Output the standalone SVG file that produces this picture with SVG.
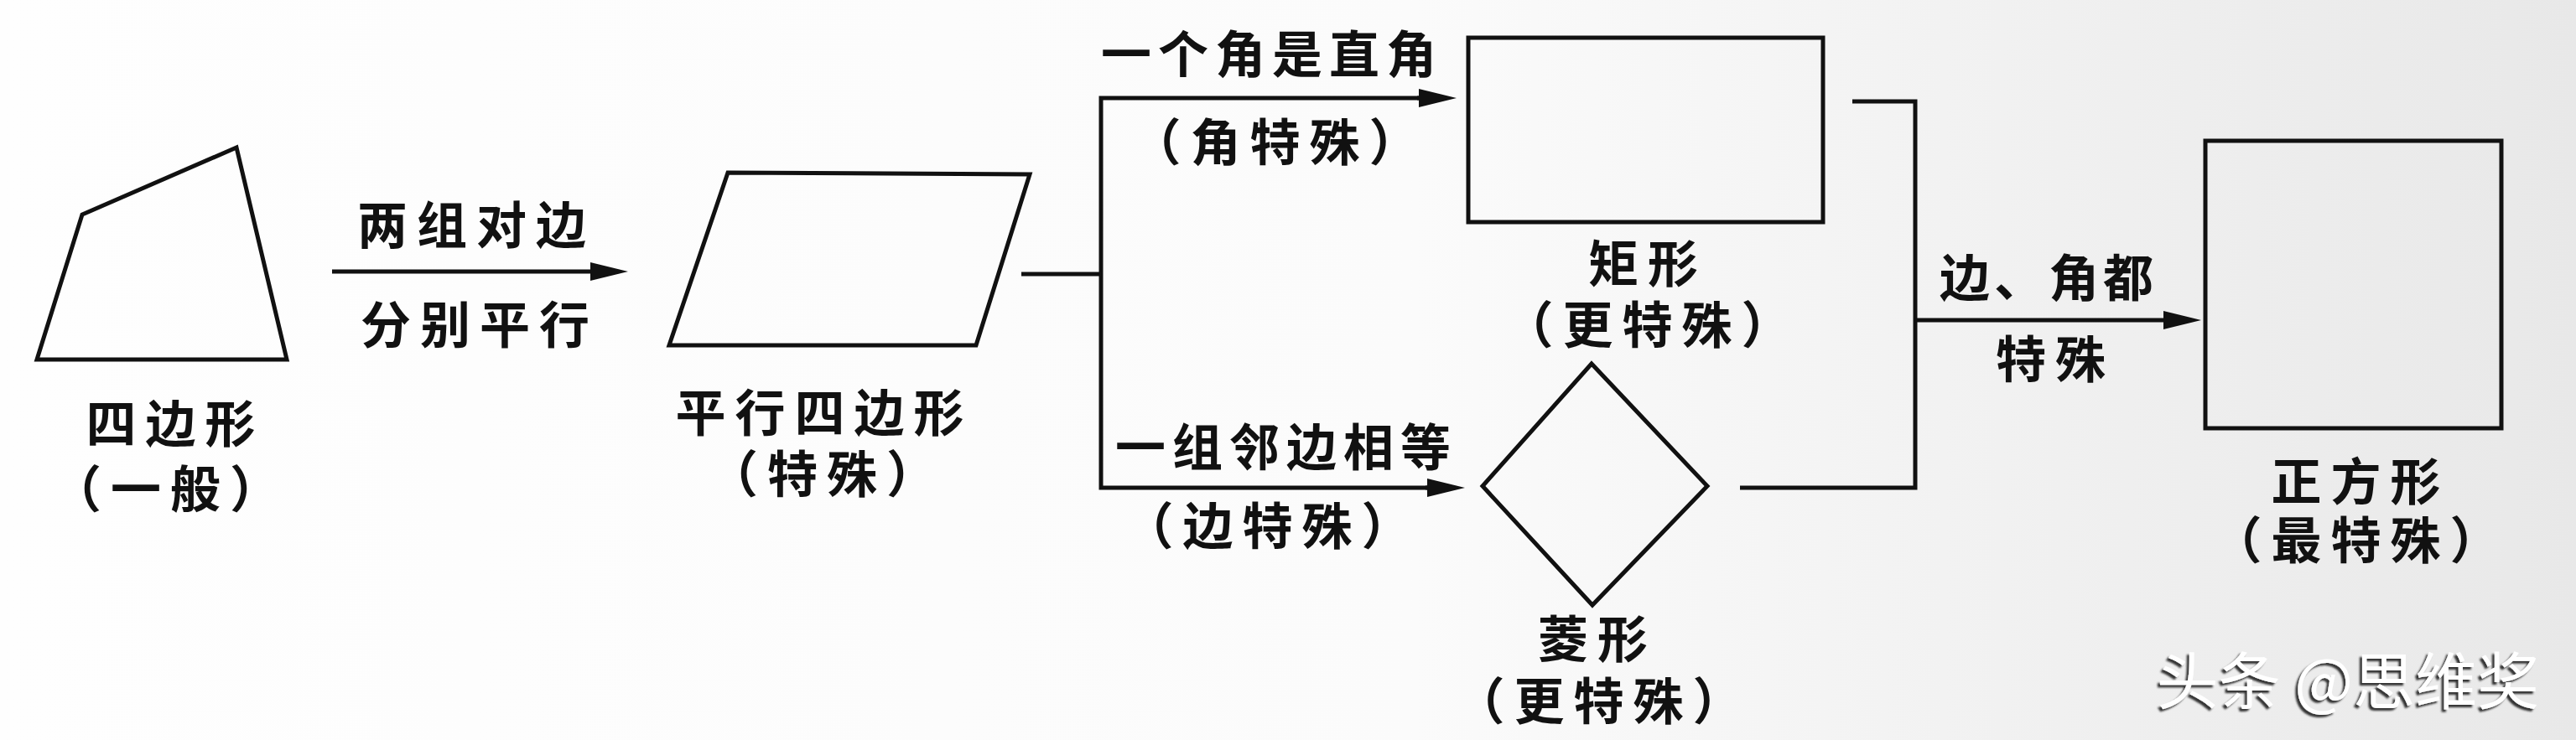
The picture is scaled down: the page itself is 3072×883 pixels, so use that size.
<svg xmlns="http://www.w3.org/2000/svg" width="3072" height="883" viewBox="0 0 3072 883">
<defs>
<linearGradient id="bg" x1="0" y1="0" x2="1" y2="0">
<stop offset="0" stop-color="#fefefe"/>
<stop offset="0.55" stop-color="#fbfbfb"/>
<stop offset="0.8" stop-color="#f0f0f0"/>
<stop offset="1" stop-color="#e8e8e8"/>
</linearGradient>
<marker id="ah" markerUnits="userSpaceOnUse" markerWidth="46" markerHeight="24" viewBox="0 0 46 24" refX="0" refY="12" orient="auto">
<path d="M0,1 L45,12 L0,23 z" fill="#111"/>
</marker>
<filter id="sh" x="-5%" y="-20%" width="110%" height="140%">
<feDropShadow dx="-3" dy="3" stdDeviation="1.2" flood-color="#1a1a1a" flood-opacity="0.9"/>
</filter>
</defs>
<style>
.shape{fill:none;stroke:#111;stroke-width:5;stroke-linejoin:miter}
.ln{fill:none;stroke:#111;stroke-width:5}
.t{font-family:"Noto Sans CJK SC","Noto Sans",sans-serif;font-size:60px;font-weight:bold;fill:#111;text-anchor:middle;letter-spacing:11px}
.wm{font-family:"Noto Sans CJK SC","Noto Sans",sans-serif;font-size:74px;fill:#fff;text-anchor:middle;filter:url(#sh)}
</style>
<rect x="0" y="0" width="3072" height="883" fill="url(#bg)"/>

<g id="quadrilateral">
<polygon class="shape" points="282,176 98,256 44,429 342,429"/>
<text class="t" x="209" y="528">四边形</text>
<text class="t" x="203" y="606">（一般）</text>
</g>

<g id="parallelogram">
<polygon class="shape" points="868,206 1228,208 1164,412 798,412"/>
<text class="t" x="983" y="515">平行四边形</text>
<text class="t" x="986" y="588">（特殊）</text>
</g>

<g id="rectangle">
<rect class="shape" x="1751" y="45" width="423" height="220"/>
<text class="t" x="1965" y="337">矩形</text>
<text class="t" x="1970" y="410">（更特殊）</text>
</g>

<g id="rhombus">
<polygon class="shape" points="1898,434 2036,580 1899,722 1768,580"/>
<text class="t" x="1905" y="785">菱形</text>
<text class="t" x="1912" y="859">（更特殊）</text>
</g>

<g id="square">
<rect class="shape" x="2630" y="168" width="353" height="343"/>
<text class="t" x="2815" y="597">正方形</text>
<text class="t" x="2815" y="667">（最特殊）</text>
</g>

<g id="connectors">
<line class="ln" x1="396" y1="324" x2="704" y2="324" marker-end="url(#ah)"/>
<text class="t" x="568" y="291">两组对边</text>
<text class="t" x="572" y="410">分别平行</text>

<line class="ln" x1="1218" y1="327" x2="1313" y2="327"/>
<polyline class="ln" points="1692,117 1313,117 1313,582 1702,582" />
<line class="ln" x1="1690" y1="117" x2="1692" y2="117" marker-end="url(#ah)"/>
<line class="ln" x1="1700" y1="582" x2="1702" y2="582" marker-end="url(#ah)"/>
<text class="t" x="1517" y="87" style="letter-spacing:8px">一个角是直角</text>
<text class="t" x="1526" y="192">（角特殊）</text>
<text class="t" x="1534" y="556" style="letter-spacing:8px">一组邻边相等</text>
<text class="t" x="1517" y="650">（边特殊）</text>

<polyline class="ln" points="2209,121 2284,121 2284,582 2075,582"/>
<line class="ln" x1="2284" y1="382" x2="2580" y2="382" marker-end="url(#ah)"/>
<text class="t" x="2443" y="354" style="letter-spacing:5px">边、角都</text>
<text class="t" x="2451" y="451">特殊</text>
</g>

<text class="wm" x="2800" y="840">头条 @思维奖</text>
</svg>
